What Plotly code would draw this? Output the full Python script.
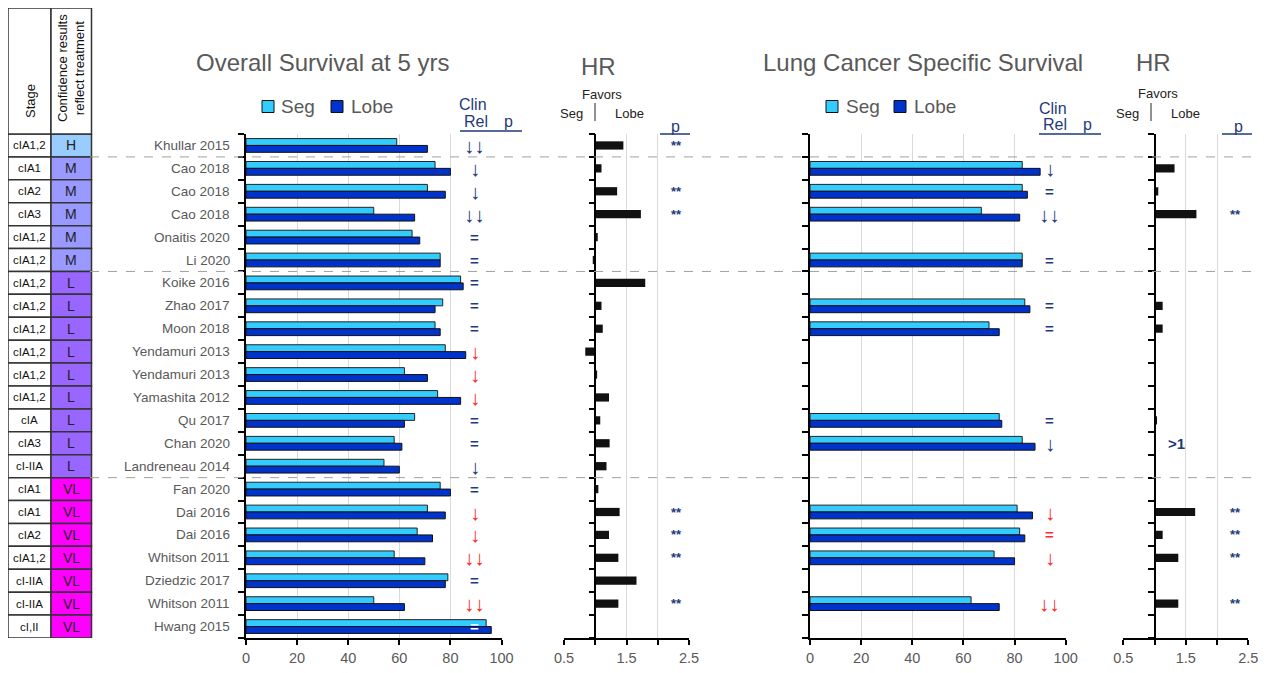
import plotly.graph_objects as go

# ---------------- data ----------------
studies = ["Khullar 2015", "Cao 2018", "Cao 2018", "Cao 2018", "Onaitis 2020", "Li 2020",
           "Koike 2016", "Zhao 2017", "Moon 2018", "Yendamuri 2013", "Yendamuri 2013",
           "Yamashita 2012", "Qu 2017", "Chan 2020", "Landreneau 2014", "Fan 2020",
           "Dai 2016", "Dai 2016", "Whitson 2011", "Dziedzic 2017", "Whitson 2011", "Hwang 2015"]
stage = ["cIA1,2", "cIA1", "cIA2", "cIA3", "cIA1,2", "cIA1,2", "cIA1,2", "cIA1,2", "cIA1,2",
         "cIA1,2", "cIA1,2", "cIA1,2", "cIA", "cIA3", "cI-IIA", "cIA1", "cIA1", "cIA2",
         "cIA1,2", "cI-IIA", "cI-IIA", "cI,II"]
confidence = ["H", "M", "M", "M", "M", "M", "L", "L", "L", "L", "L", "L", "L", "L", "L",
              "VL", "VL", "VL", "VL", "VL", "VL", "VL"]
series_names = ["Seg", "Lobe"]

os_seg = [59, 74, 71, 50, 65, 76, 84, 77, 74, 78, 62, 75, 66, 58, 54, 76, 71, 67, 58, 79, 50, 94]
os_lobe = [71, 80, 78, 66, 68, 76, 85, 74, 76, 86, 71, 84, 62, 61, 60, 80, 78, 73, 70, 78, 62, 96]
os_hr = [1.45, 1.10, 1.35, 1.73, 1.04, 0.96, 1.80, 1.10, 1.12, 0.84, 1.03, 1.22, 1.08, 1.23,
         1.18, 1.05, 1.39, 1.22, 1.37, 1.66, 1.37, None]
os_clin = ["↓↓", "↓", "↓", "↓↓", "=", "=", "=", "=", "=", "↓", "↓", "↓", "=", "=", "↓", "=",
           "↓", "↓", "↓↓", "=", "↓↓", "="]
os_clin_tone = ["n", "n", "n", "n", "n", "n", "n", "n", "n", "r", "r", "r", "n", "n", "n", "n",
                "r", "r", "r", "n", "r", "w"]
os_p = ["**", "", "**", "**", "", "", "", "", "", "(3 yr)", "", "", "", "", "", "",
        "*", "*", "*", "", "*", "(3 yr)"]
os_p_tone = ["n", "n", "n", "n", "n", "n", "n", "n", "n", "r", "n", "n", "n", "n", "n", "n",
             "r", "r", "r", "n", "r", "n"]
os_hr_p = ["**", "", "**", "**", "", "", "", "", "", "", "", "", "", "", "", "",
           "**", "**", "**", "", "**", ""]

lc_seg = [None, 83, 83, 67, None, 83, None, 84, 70, None, None, None, 74, 83, None, None,
          81, 82, 72, None, 63, None]
lc_lobe = [None, 90, 85, 82, None, 83, None, 86, 74, None, None, None, 75, 88, None, None,
           87, 84, 80, None, 74, None]
lc_hr = [None, 1.32, 1.06, 1.67, None, 1.01, None, 1.13, 1.13, None, None, None, 1.04, None,
         None, None, 1.65, 1.13, 1.38, None, 1.38, None]
lc_hr_note = ["", "", "", "", "", "", "", "", "", "", "", "", "", ">1", "", "", "", "", "", "", "", ""]
lc_clin = ["", "↓", "=", "↓↓", "", "=", "", "=", "=", "", "", "", "=", "↓", "", "",
           "↓", "=", "↓", "", "↓↓", ""]
lc_clin_tone = ["n"] * 16 + ["r", "r", "r", "n", "r", "n"]
lc_p = ["", "", "", "*", "", "", "", "", "", "", "", "", "", "", "", "",
        "*", "*", "*", "", "*", ""]
lc_p_tone = ["n"] * 16 + ["r", "r", "r", "n", "r", "n"]
lc_hr_p = ["", "", "", "**", "", "", "", "", "", "", "", "", "", "", "", "",
           "**", "**", "**", "", "**", ""]

# ---------------- style ----------------
OFF = 8                      # page body margin
W, H = 1270 - 2 * OFF, 673 - 2 * OFF
FONT = "Liberation Sans, Arial, sans-serif"
GRAY = "#595959"
NAVY = "#1F3A78"
RED = "#FF2A2A"
SEG_C = "#33CCFF"
LOBE_C = "#0033CC"
SER_C = [SEG_C, LOBE_C]
TONE = {"n": NAVY, "r": RED, "w": "white"}
CONF_C = {"H": "#99CCFF", "M": "#9999FF", "L": "#9966FF", "VL": "#FF00FF"}

n = len(studies)
idx = list(range(n))

def px(x):
    return (x - OFF) / W

def py(y):
    return 1 - (y - OFF) / H

TOP, BOT = 134, 638
ydom = [py(BOT), py(TOP)]
dom_os = [px(246), px(501.5)]
dom_hr1 = [px(564), px(689)]
dom_lc = [px(810), px(1065.7)]
dom_hr2 = [px(1123.3), px(1248.3)]

fig = go.Figure()

fig.add_trace(go.Bar(y=idx, x=os_seg, orientation="h", name="Seg", marker_color=SEG_C,
                     marker_line=dict(color="#222", width=1), xaxis="x", yaxis="y"))
fig.add_trace(go.Bar(y=idx, x=os_lobe, orientation="h", name="Lobe", marker_color=LOBE_C,
                     marker_line=dict(color="#111", width=1), xaxis="x", yaxis="y"))
fig.add_trace(go.Bar(y=idx, x=[None if v is None else v - 1 for v in os_hr], base=1,
                     orientation="h", width=0.36, marker_color="#111111", name="HR",
                     marker_line_width=0, xaxis="x2", yaxis="y2"))
fig.add_trace(go.Bar(y=idx, x=lc_seg, orientation="h", name="Seg", marker_color=SEG_C,
                     marker_line=dict(color="#222", width=1), xaxis="x3", yaxis="y3"))
fig.add_trace(go.Bar(y=idx, x=lc_lobe, orientation="h", name="Lobe", marker_color=LOBE_C,
                     marker_line=dict(color="#111", width=1), xaxis="x3", yaxis="y3"))
fig.add_trace(go.Bar(y=idx, x=[None if v is None else v - 1 for v in lc_hr], base=1,
                     orientation="h", width=0.36, marker_color="#111111", name="HR",
                     marker_line_width=0, xaxis="x4", yaxis="y4"))

bounds = [i - 0.5 for i in range(n + 1)]
tickfont = dict(family=FONT, size=14.5, color=GRAY)

def xax(dom, rng, tv, tt, anchor):
    return dict(domain=dom, range=rng, anchor=anchor, tickvals=tv, ticktext=tt,
                ticks="outside", ticklen=5, tickcolor="black", tickwidth=1.5,
                showline=True, linecolor="black", linewidth=1.5,
                showgrid=True, gridcolor="#D9D9D9", gridwidth=1, zeroline=False,
                tickfont=tickfont, fixedrange=True, automargin=False,
                ticklabelstandoff=1)

def yax(anchor, position=None):
    d = dict(domain=ydom, range=[n - 0.5, -0.5], tickvals=bounds, showticklabels=False,
             ticks="outside", ticklen=6, tickcolor="black", tickwidth=1.5,
             showline=True, linecolor="black", linewidth=1.5, showgrid=False,
             zeroline=False, fixedrange=True, automargin=False)
    if position is None:
        d["anchor"] = anchor
    else:
        d["anchor"] = "free"
        d["position"] = position
    return d

hr_pos1 = dom_hr1[0] + (1 - 0.5) / 2.0 * (dom_hr1[1] - dom_hr1[0])
hr_pos2 = dom_hr2[0] + (1 - 0.5) / 2.0 * (dom_hr2[1] - dom_hr2[0])

pct_ticks = [0, 20, 40, 60, 80, 100]
hr_ticks = [0.5, 1, 1.5, 2, 2.5]
hr_text = ["0.5", "", "1.5", "", "2.5"]

fig.update_layout(
    xaxis=xax(dom_os, [0, 100], pct_ticks, [str(t) for t in pct_ticks], "y"),
    yaxis=yax("x"),
    xaxis2=xax(dom_hr1, [0.5, 2.5], hr_ticks, hr_text, "y2"),
    yaxis2=yax("x2", hr_pos1),
    xaxis3=xax(dom_lc, [0, 100], pct_ticks, [str(t) for t in pct_ticks], "y3"),
    yaxis3=yax("x3"),
    xaxis4=xax(dom_hr2, [0.5, 2.5], hr_ticks, hr_text, "y4"),
    yaxis4=yax("x4", hr_pos2),
    barmode="group", bargap=0.4, bargroupgap=0, showlegend=False,
    width=W, height=H, margin=dict(l=0, r=0, t=0, b=0, autoexpand=False),
    plot_bgcolor="white", paper_bgcolor="white",
    font=dict(family=FONT, color=GRAY),
)

ann = []
shapes = []

def text(x, y, s, size, color, xref="paper", yref="paper", xanchor="center", bold=False,
         angle=0, yanchor="middle"):
    if bold:
        s = "<b>" + s + "</b>"
    ann.append(dict(x=x, y=y, xref=xref, yref=yref, text=s, showarrow=False,
                    xanchor=xanchor, yanchor=yanchor, textangle=angle,
                    font=dict(family=FONT, size=size, color=color)))

# titles
text(px(322), py(62), "Overall Survival at 5 yrs", 24, GRAY)
text(px(598), py(67), "HR", 24, GRAY)
text(px(923), py(62), "Lung Cancer Specific Survival", 24, GRAY)
text(px(1153), py(62), "HR", 24, GRAY)

# legends (key squares + labels)
for sq_x, tx_x in [((262, 331), (279, 349)), ((826, 894), (844, 912))]:
    for k, nm in enumerate(series_names):
        shapes.append(dict(type="rect", xref="paper", yref="paper",
                           x0=px(sq_x[k]), x1=px(sq_x[k] + 12), y0=py(112.5), y1=py(100.5),
                           fillcolor=SER_C[k], line=dict(color="#111", width=1)))
        text(px(tx_x[k]), py(106), nm, 19, GRAY, xanchor="left")

# Clin Rel / p headers
for cx, rx, pxx, yc, yr, yl, x0, x1 in [(473, 476, 509, 104, 121, 131, 460, 522),
                                         (1053, 1055, 1087, 108, 124, 134, 1039, 1101)]:
    text(px(cx), py(yc), "Clin", 16, NAVY)
    text(px(rx), py(yr), "Rel", 16, NAVY)
    text(px(pxx), py(yr), "p", 16, NAVY)
    shapes.append(dict(type="line", xref="paper", yref="paper", x0=px(x0), x1=px(x1),
                       y0=py(yl), y1=py(yl), line=dict(color=NAVY, width=1.5)))

# HR sub headers
for fx, sx, bx, lx, fy, sy in [(602, 571, 595, 629, 95, 113), (1158, 1127, 1151, 1185, 93, 113)]:
    text(px(fx), py(fy), "Favors", 13, "#222222")
    text(px(sx), py(sy), "Seg", 13, "#222222")
    text(px(lx), py(sy), "Lobe", 13, "#222222")
    shapes.append(dict(type="line", xref="paper", yref="paper", x0=px(bx), x1=px(bx),
                       y0=py(103), y1=py(121), line=dict(color="#222222", width=1)))
for ppx, x0, x1 in [(675, 660, 690), (1238, 1222, 1252)]:
    text(px(ppx), py(126), "p", 16, NAVY)
    shapes.append(dict(type="line", xref="paper", yref="paper", x0=px(x0), x1=px(x1),
                       y0=py(134), y1=py(134), line=dict(color=NAVY, width=1.5)))

# study labels
for i, s in enumerate(studies):
    text(px(232), i, s, 13.5, GRAY, yref="y", xanchor="right")

# clinical relevance / p annotations
ARROW_SIZE = 20.5
for i in idx:
    if os_clin[i]:
        arrow = "↓" in os_clin[i]
        text(89.5, i, os_clin[i], ARROW_SIZE if arrow else 15, TONE[os_clin_tone[i]],
             xref="x", yref="y", bold=not arrow)
    if os_p[i]:
        if "yr" in os_p[i]:
            text(105.5, i, os_p[i], 11 if os_p_tone[i] == "r" else 12, TONE[os_p_tone[i]],
                 xref="x", yref="y", bold=(os_p_tone[i] == "r"))
        else:
            text(103, i, os_p[i], 13, TONE[os_p_tone[i]], xref="x", yref="y", bold=True)
    if os_hr_p[i]:
        text(2.3, i, os_hr_p[i], 13, NAVY, xref="x2", yref="y2", bold=True)
    if lc_clin[i]:
        arrow = "↓" in lc_clin[i]
        text(93.8, i, lc_clin[i], ARROW_SIZE if arrow else 15, TONE[lc_clin_tone[i]],
             xref="x3", yref="y3", bold=not arrow)
    if lc_p[i]:
        text(107.5, i, lc_p[i], 13, TONE[lc_p_tone[i]], xref="x3", yref="y3", bold=True)
    if lc_hr_p[i]:
        text(2.3, i, lc_hr_p[i], 13, NAVY, xref="x4", yref="y4", bold=True)
    if lc_hr_note[i]:
        text(1.35, i, lc_hr_note[i], 15, NAVY, xref="x4", yref="y4", bold=True)

# group separators (dashed) where confidence level changes
for i in range(1, n):
    if confidence[i] != confidence[i - 1]:
        shapes.append(dict(type="line", xref="paper", yref="y", x0=px(90), x1=px(1253),
                           y0=i - 0.5, y1=i - 0.5,
                           line=dict(color="#A0A0A0", width=1, dash="dash")))

# left table
c0, c1, c2 = 8, 51, 91.5
shapes.append(dict(type="rect", xref="paper", yref="paper", x0=px(c0), x1=px(c1),
                   y0=py(TOP), y1=py(8), line=dict(color="#333", width=1.5), fillcolor="white"))
shapes.append(dict(type="rect", xref="paper", yref="paper", x0=px(c1), x1=px(c2),
                   y0=py(TOP), y1=py(8), line=dict(color="#333", width=1.5), fillcolor="white"))
text(px(30), py(101), "Stage", 13, "#111111", angle=-90)
text(px(71), py(68), "Confidence results<br>reflect treatment", 13, "#111111", angle=-90)
for i in idx:
    shapes.append(dict(type="rect", xref="paper", yref="y", x0=px(c0), x1=px(c1),
                       y0=i - 0.5, y1=i + 0.5, line=dict(color="#333", width=1.5),
                       fillcolor="white", layer="below"))
    shapes.append(dict(type="rect", xref="paper", yref="y", x0=px(c1), x1=px(c2),
                       y0=i - 0.5, y1=i + 0.5, line=dict(color="#333", width=1.5),
                       fillcolor=CONF_C[confidence[i]], layer="below"))
    text(px((c0 + c1) / 2), i, stage[i], 11.5, "#111111", yref="y")
    text(px((c1 + c2) / 2), i, confidence[i], 14, "#222222", yref="y")

fig.update_layout(annotations=ann, shapes=shapes)
fig.write_html("out.html")
